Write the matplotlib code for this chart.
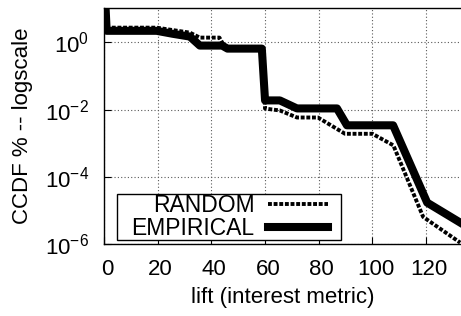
import numpy as np
import matplotlib
matplotlib.use("Agg")
import matplotlib.pyplot as plt
from matplotlib.patches import Rectangle
from matplotlib.ticker import FixedLocator, LogFormatterMathtext, NullLocator

plt.rcParams['font.family'] = ['Liberation Sans', 'DejaVu Sans']
plt.rcParams['mathtext.fontset'] = 'custom'
plt.rcParams['mathtext.rm'] = 'Liberation Sans'
plt.rcParams['mathtext.it'] = 'Liberation Sans'
plt.rcParams['font.size'] = 16

# CCDF curves
empirical_x = [0, 1, 19.6, 25.5, 32, 35.7, 44, 46, 58.8, 60, 65.5, 71.9, 86.8, 90.5, 107.7, 120.4, 133]
empirical_y = [100, 2.2, 2.2, 1.8, 1.48, 0.80, 0.80, 0.65, 0.65, 0.0187, 0.0187, 0.0108, 0.0108,
               0.0034, 0.0034, 1.7e-5, 4.2e-6]

random_x = [0, 1, 19.6, 32, 35.7, 43, 45, 59, 60, 65.5, 71.9, 79.7, 89.8, 100, 107.8, 118.9, 132.7]
random_y = [100, 2.73, 2.73, 1.94, 1.38, 1.38, 0.72, 0.6, 0.0107, 0.0094, 0.0058, 0.0058,
            0.0019, 0.0019, 8.6e-4, 6.4e-6, 1.1e-6]

x_ticks = [0, 20, 40, 60, 80, 100, 120]
y_ticks = [1e0, 1e-2, 1e-4, 1e-6]

fig = plt.figure(figsize=(4.61, 3.16), dpi=100)
ax = fig.add_axes([0.2256, 0.2278, 0.7744, 0.7469])

ax.plot(random_x, random_y, color='black', lw=2.8, linestyle=(0, (1.0, 0.45)),
        dash_capstyle='butt', label='RANDOM', zorder=3)
ax.plot(empirical_x, empirical_y, color='black', lw=5.8, label='EMPIRICAL', zorder=4)

ax.set_yscale('log')
ax.set_xlim(0, 133)
ax.set_ylim(1e-6, 10.5)
ax.xaxis.set_major_locator(FixedLocator(x_ticks))
ax.yaxis.set_major_locator(FixedLocator(y_ticks))
ax.yaxis.set_minor_locator(NullLocator())
ax.yaxis.set_major_formatter(LogFormatterMathtext())

ax.grid(True, color='0.35', linestyle=(0, (1, 2)), linewidth=0.8)
ax.tick_params(direction='in', length=5, width=0.8, pad=11, labelsize=16)
ax.spines['right'].set_visible(False)
for s in ['left', 'bottom', 'top']:
    ax.spines[s].set_linewidth(1.0)

# gnuplot puts x tick labels a bit right of the tick
from matplotlib.transforms import ScaledTranslation
for lab in ax.get_xticklabels():
    lab.set_transform(lab.get_transform() + ScaledTranslation(3 / 100, 0, fig.dpi_scale_trans))

ax.set_xlabel('lift (interest metric)', fontsize=16, labelpad=5)
ax.set_ylabel('CCDF % -- logscale', fontsize=16, labelpad=8)

leg = ax.legend(loc='lower left', bbox_to_anchor=(0.076, 0.017), borderaxespad=0,
                markerfirst=False, frameon=False,
                handlelength=2.6, handletextpad=0.6, labelspacing=0.0, borderpad=0.0,
                fontsize=16.5)
leg.set_zorder(6)

# gnuplot-style key box: wide side padding, none above/below
fig.canvas.draw()
bb = leg.get_window_extent(fig.canvas.get_renderer())
padx = 14
box = Rectangle((bb.x0 - padx, bb.y0), bb.width + 2 * padx - 1, bb.height,
                transform=None, facecolor='white', edgecolor='black', lw=1.0, zorder=5)
ax.add_artist(box)

fig.savefig('out.png', dpi=100)
